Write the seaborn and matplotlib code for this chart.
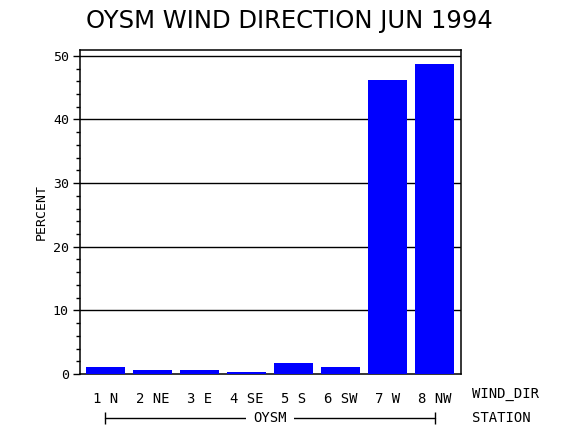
import matplotlib
matplotlib.use("Agg")
import matplotlib.pyplot as plt
import seaborn as sns
import pandas as pd
from matplotlib.ticker import MultipleLocator

categories = ["1 N", "2 NE", "3 E", "4 SE", "5 S", "6 SW", "7 W", "8 NW"]
percent = [1.1, 0.63, 0.63, 0.31, 1.73, 1.1, 46.2, 48.7]
station = "OYSM"
yticks = [0, 10, 20, 30, 40, 50]

df = pd.DataFrame({"dir": categories, "pct": percent})

sns.set_style("white")
plt.rcParams['font.family'] = ['DejaVu Sans Mono', 'DejaVu Sans']
plt.rcParams['text.color'] = 'black'
plt.rcParams['axes.labelcolor'] = 'black'
plt.rcParams['xtick.color'] = 'black'
plt.rcParams['ytick.color'] = 'black'

fig = plt.figure(figsize=(5.7, 4.3), dpi=100)
ax = fig.add_axes([80/570, 56/430, 381/570, 324.5/430])

sns.barplot(data=df, x="dir", y="pct", color="#0000ff", saturation=1,
            width=0.83, ax=ax, zorder=3)
for p in ax.patches:
    p.set_edgecolor("none")

ax.set_xlim(-0.54, 7.56)
ax.set_ylim(0, 51.0)
ax.set_yticks(yticks)
ax.set_yticklabels([str(v) for v in yticks], fontsize=9.5)
ax.yaxis.set_minor_locator(MultipleLocator(2))
for v in yticks[1:]:
    ax.axhline(v, color="black", lw=1, zorder=2)

ax.tick_params(axis="y", which="major", direction="out", length=5, width=1,
               color="black", pad=3, left=True)
ax.tick_params(axis="y", which="minor", direction="out", length=3, width=1,
               color="black", left=True)
ax.tick_params(axis="x", length=0, pad=13, labelsize=10)
for s in ax.spines.values():
    s.set_visible(True)
    s.set_color("black")
    s.set_linewidth(1.1)

ax.set_xlabel("")
ax.set_ylabel("PERCENT", fontsize=9.5, labelpad=4)

ax.text(1.03, -0.063, "WIND_DIR", transform=ax.transAxes, fontsize=10,
        ha="left", va="center")
ax.text(1.03, -0.135, "STATION", transform=ax.transAxes, fontsize=10,
        ha="left", va="center")

trans = ax.get_xaxis_transform()
ax.plot([0, 7], [-0.135, -0.135], transform=trans, color="black", lw=1,
        clip_on=False)
ax.plot([0, 7], [-0.135, -0.135], transform=trans, color="black", lw=0,
        marker="|", markersize=8, mew=1, clip_on=False)
ax.text(3.5, -0.135, station, transform=trans, fontsize=10, ha="center",
        va="center", bbox=dict(facecolor="white", edgecolor="none", pad=5))

fig.text(289/570, 1 - 21/430, "OYSM WIND DIRECTION JUN 1994",
         fontsize=17.5, ha="center", va="center", family="DejaVu Sans",
         color="black")

fig.savefig("out.png", dpi=100, facecolor="white")
